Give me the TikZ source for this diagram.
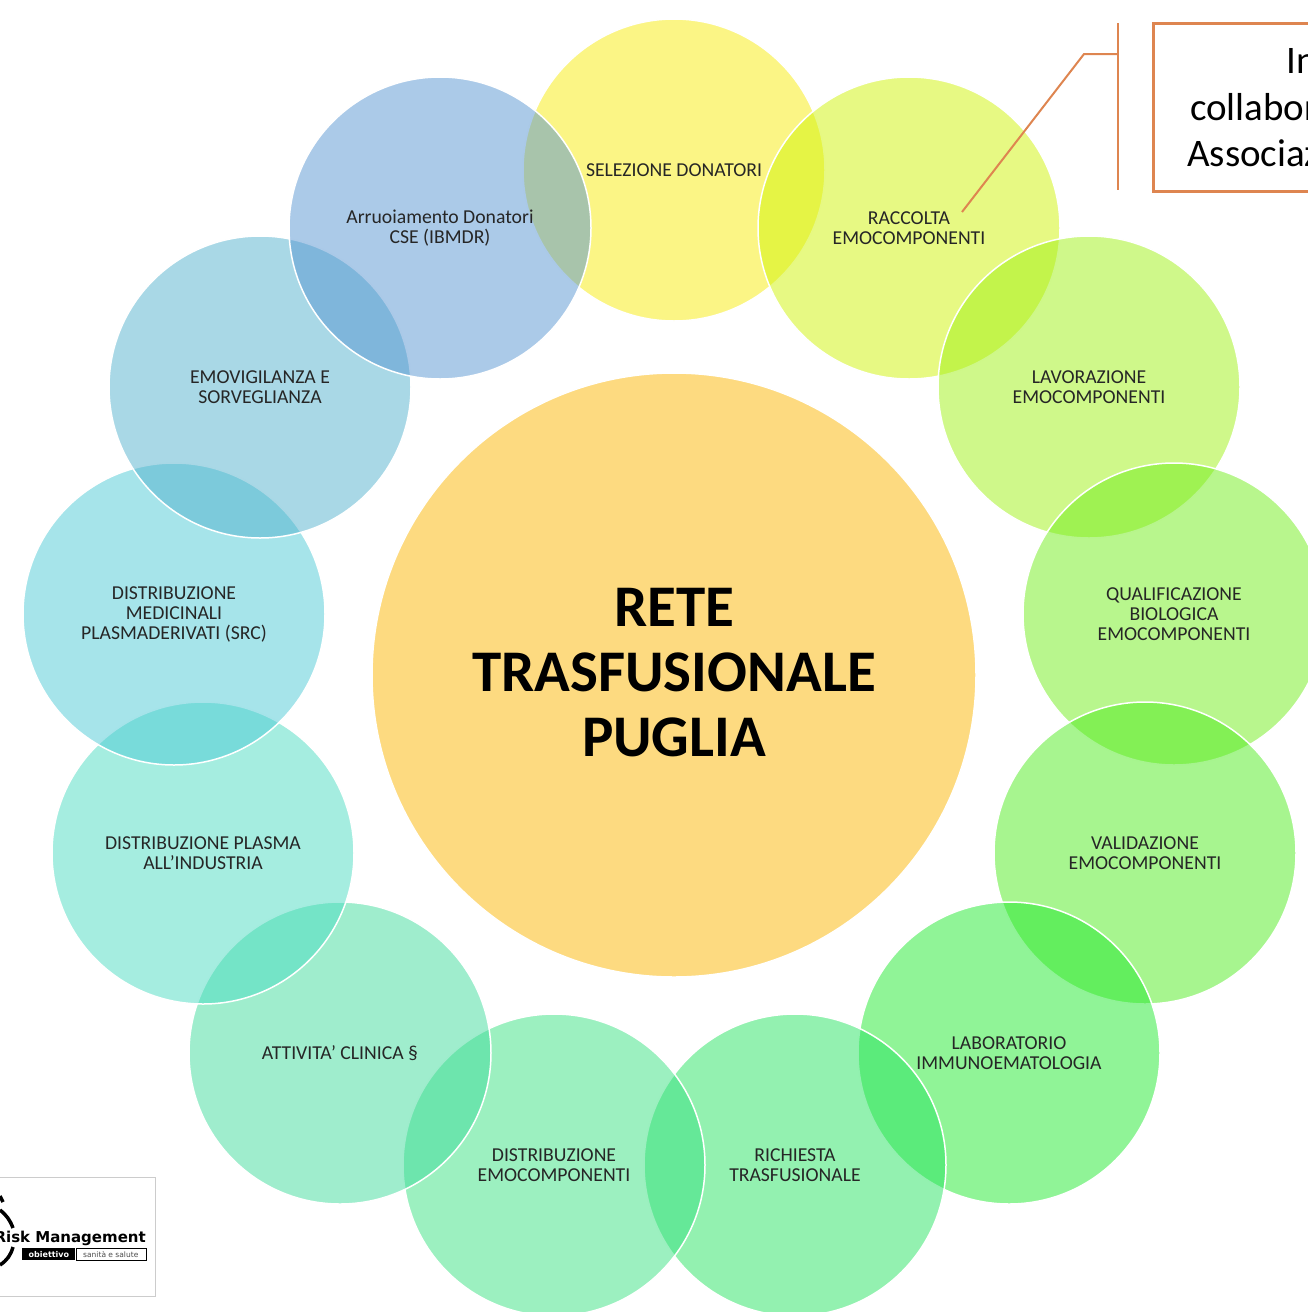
\documentclass[tikz,border=0pt]{standalone}
\usepackage{fontspec}
\setmainfont{Carlito}
\newfontfamily\logofont{DejaVu Sans}
\usetikzlibrary{positioning, calc}

\definecolor{selcol}{RGB}{247,235,11}
\definecolor{raccol}{RGB}{207,243,7}
\definecolor{lavcol}{RGB}{159,241,21}
\definecolor{qualcol}{RGB}{113,237,27}
\definecolor{valcol}{RGB}{79,235,31}
\definecolor{labcol}{RGB}{33,233,47}
\definecolor{riccol}{RGB}{39,227,97}
\definecolor{discol}{RGB}{57,225,129}
\definecolor{attcol}{RGB}{63,219,155}
\definecolor{placol}{RGB}{75,219,193}
\definecolor{medcol}{RGB}{77,201,213}
\definecolor{emocol}{RGB}{83,177,205}
\definecolor{arrcol}{RGB}{87,149,209}
\definecolor{maincol}{RGB}{253,218,128}
\definecolor{callcol}{RGB}{222,133,80}

\begin{document}
\begin{tikzpicture}[x=1pt, y=-1pt,
    petal/.style={circle, draw=white, line width=1.5pt, fill opacity=0.5, minimum size=302pt, inner sep=0pt},
    petaltext/.style={align=center, font=\fontsize{19.7}{20}\selectfont, text=black!85},
    callout/.style={draw=callcol, line width=2pt},
    ]
    \useasboundingbox (0,0) rectangle (1307,1312);

    % Centre
    \node[circle, draw=white, line width=1.5pt, fill=maincol, minimum size=604pt, inner sep=0pt] (rete) at (674,675) {};

    % Petals
    \node[petal, fill=selcol] (sel) at (674,170) {};
    \node[petal, fill=raccol] (rac) at (909,228) {};
    \node[petal, fill=lavcol] (lav) at (1089,387) {};
    \node[petal, fill=qualcol] (qual) at (1174,614) {};
    \node[petal, fill=valcol] (val) at (1145,853) {};
    \node[petal, fill=labcol] (lab) at (1009,1053) {};
    \node[petal, fill=riccol] (ric) at (795,1165) {};
    \node[petal, fill=discol] (dis) at (554,1165) {};
    \node[petal, fill=attcol] (att) at (340,1053) {};
    \node[petal, fill=placol] (pla) at (203,853) {};
    \node[petal, fill=medcol] (med) at (174,614) {};
    \node[petal, fill=emocol] (emo) at (260,387) {};
    \node[petal, fill=arrcol] (arr) at (440,228) {};

    % Labels
    \node[align=center, font=\fontsize{59}{65}\selectfont\bfseries] (retelabel) at (674,673) {RETE\\TRASFUSIONALE\\PUGLIA};
    \node[petaltext] (sellabel) at (sel.center) {SELEZIONE DONATORI};
    \node[petaltext] (raclabel) at (rac.center) {RACCOLTA\\EMOCOMPONENTI};
    \node[petaltext] (lavlabel) at (lav.center) {LAVORAZIONE\\EMOCOMPONENTI};
    \node[petaltext] (quallabel) at (qual.center) {QUALIFICAZIONE\\BIOLOGICA\\EMOCOMPONENTI};
    \node[petaltext] (vallabel) at (val.center) {VALIDAZIONE\\EMOCOMPONENTI};
    \node[petaltext] (lablabel) at (lab.center) {LABORATORIO\\IMMUNOEMATOLOGIA};
    \node[petaltext] (riclabel) at (ric.center) {RICHIESTA\\TRASFUSIONALE};
    \node[petaltext] (dislabel) at (dis.center) {DISTRIBUZIONE\\EMOCOMPONENTI};
    \node[petaltext] (attlabel) at (att.center) {ATTIVITA' CLINICA §};
    \node[petaltext] (plalabel) at (pla.center) {DISTRIBUZIONE PLASMA\\ALL’INDUSTRIA};
    \node[petaltext] (medlabel) at (med.center) {DISTRIBUZIONE\\MEDICINALI\\PLASMADERIVATI (SRC)};
    \node[petaltext] (emolabel) at (emo.center) {EMOVIGILANZA E\\SORVEGLIANZA};
    \node[petaltext] (arrlabel) at (arr.center) {Arruoiamento Donatori\\CSE (IBMDR)};

    % Callout
    \node[callout, line width=2.5pt, fill=white, minimum width=200pt, minimum height=168pt, anchor=north west] (callbox) at (1152,22) {};
    \node[anchor=west, align=left, font=\fontsize{39}{46.5}\selectfont, inner sep=0pt] (calltext) at (1187,108) {\hspace{99pt}In\\[0pt]\hspace{3pt}collabor\\Associaz};
    \coordinate (barup) at (1118,23);
    \coordinate (bardown) at (1118,190);
    \coordinate (barmid) at (1118,54);
    \coordinate (elbow) at (1084,54);
    \coordinate (racend) at (962,212);
    \draw[callout] (barup) -- (bardown);
    \draw[callout] (barmid) -- (elbow) -- (racend);

    % Logo
    \node[draw=black!20, fill=white, line width=1pt, minimum width=170pt, minimum height=119pt, anchor=north east] (logo) at (156,1177) {};
    \node[anchor=east, font=\logofont\bfseries\fontsize{15}{16}\selectfont, inner sep=0pt] (risk) at (146,1238) {Risk Management};
    \node[anchor=north east, draw=black, fill=white, inner sep=1pt, minimum width=70pt, minimum height=12pt, font=\logofont\fontsize{7.5}{8}\selectfont, text=black!70] (salute) at (146,1248) {sanità e salute};
    \node[anchor=north east, fill=black, text=white, inner sep=1pt, minimum width=53pt, minimum height=12pt, font=\logofont\bfseries\fontsize{8}{8}\selectfont] (obiettivo) at (salute.north west) {obiettivo};
    \draw[line width=3.5pt] (0,1196) -- (3,1202);
    \draw[line width=3.5pt] (0,1210) to[bend left=15] (13,1228);
    \draw[line width=3.5pt] (13,1247) to[bend left=20] (0,1265);
\end{tikzpicture}
\end{document}
